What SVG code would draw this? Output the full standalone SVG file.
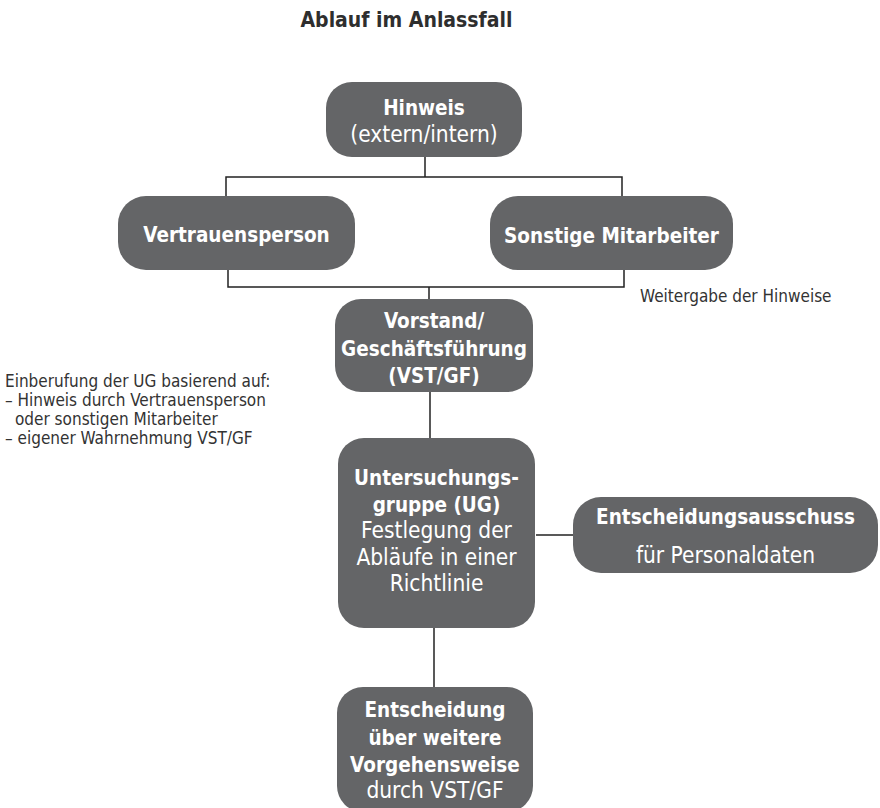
<svg xmlns="http://www.w3.org/2000/svg" width="880" height="808" viewBox="0 0 880 808">
<style>
.box{fill:#646567;}
.t{font-family:'DejaVu Sans Condensed','DejaVu Sans',sans-serif;font-stretch:condensed;fill:#ffffff;text-anchor:middle;font-size:22.5px;}
.b{font-weight:bold;font-size:20.5px;}
.n{font-family:'DejaVu Sans Condensed','DejaVu Sans',sans-serif;font-stretch:condensed;fill:#333333;font-size:17px;}
.c{fill:none;stroke:#222222;stroke-width:1.5;}
</style>
<rect width="880" height="808" fill="#ffffff"/>
<text class="n" x="406.5" y="27" style="font-size:21px;font-weight:bold;text-anchor:middle;fill:#2e2e2e">Ablauf im Anlassfall</text>
<g id="connectors">
<path class="c" d="M425,157 V177 M226,196 V177 H622 V196"/>
<path class="c" d="M228,270 V287 H624 V270 M429,287 V299"/>
<path class="c" d="M430,392 V438"/>
<path class="c" d="M536,535 H573"/>
<path class="c" d="M434,628 V687"/>
</g>
<g id="hinweis">
<rect class="box" x="326" y="82" width="196" height="75" rx="26"/>
<text class="t b" x="424" y="115">Hinweis</text>
<text class="t" x="424" y="142">(extern/intern)</text>
</g>
<g id="vertrauensperson">
<rect class="box" x="118" y="196" width="237" height="74" rx="28"/>
<text class="t b" x="236.5" y="242">Vertrauensperson</text>
</g>
<g id="sonstige">
<rect class="box" x="490" y="196" width="243" height="74" rx="28"/>
<text class="t b" x="611.5" y="243">Sonstige Mitarbeiter</text>
</g>
<g id="weitergabe">
<text class="n" x="640" y="302">Weitergabe der Hinweise</text>
</g>
<g id="vorstand">
<rect class="box" x="335" y="299" width="198" height="93" rx="26"/>
<text class="t b" x="434" y="328">Vorstand/</text>
<text class="t b" x="434" y="355.5">Geschäftsführung</text>
<text class="t b" x="434" y="383">(VST/GF)</text>
</g>
<g id="einberufung">
<text class="n" x="5" y="387">Einberufung der UG basierend auf:</text>
<text class="n" x="5" y="406">– Hinweis durch Vertrauensperson</text>
<text class="n" x="15" y="425">oder sonstigen Mitarbeiter</text>
<text class="n" x="5" y="444">– eigener Wahrnehmung VST/GF</text>
</g>
<g id="untersuchungsgruppe">
<rect class="box" x="338" y="438" width="197" height="190" rx="26"/>
<text class="t b" x="436.5" y="485">Untersuchungs-</text>
<text class="t b" x="436.5" y="511.5">gruppe (UG)</text>
<text class="t" x="436.5" y="538">Festlegung der</text>
<text class="t" x="436.5" y="564.5">Abläufe in einer</text>
<text class="t" x="436.5" y="591">Richtlinie</text>
</g>
<g id="entscheidungsausschuss">
<rect class="box" x="573" y="497" width="305" height="76" rx="28"/>
<text class="t b" x="725.5" y="524">Entscheidungsausschuss</text>
<text class="t" x="725.5" y="563">für Personaldaten</text>
</g>
<g id="entscheidung">
<rect class="box" x="337" y="687" width="196" height="125" rx="26"/>
<text class="t b" x="435" y="717">Entscheidung</text>
<text class="t b" x="435" y="745">über weitere</text>
<text class="t b" x="435" y="772">Vorgehensweise</text>
<text class="t" x="435" y="798">durch VST/GF</text>
</g>
</svg>
